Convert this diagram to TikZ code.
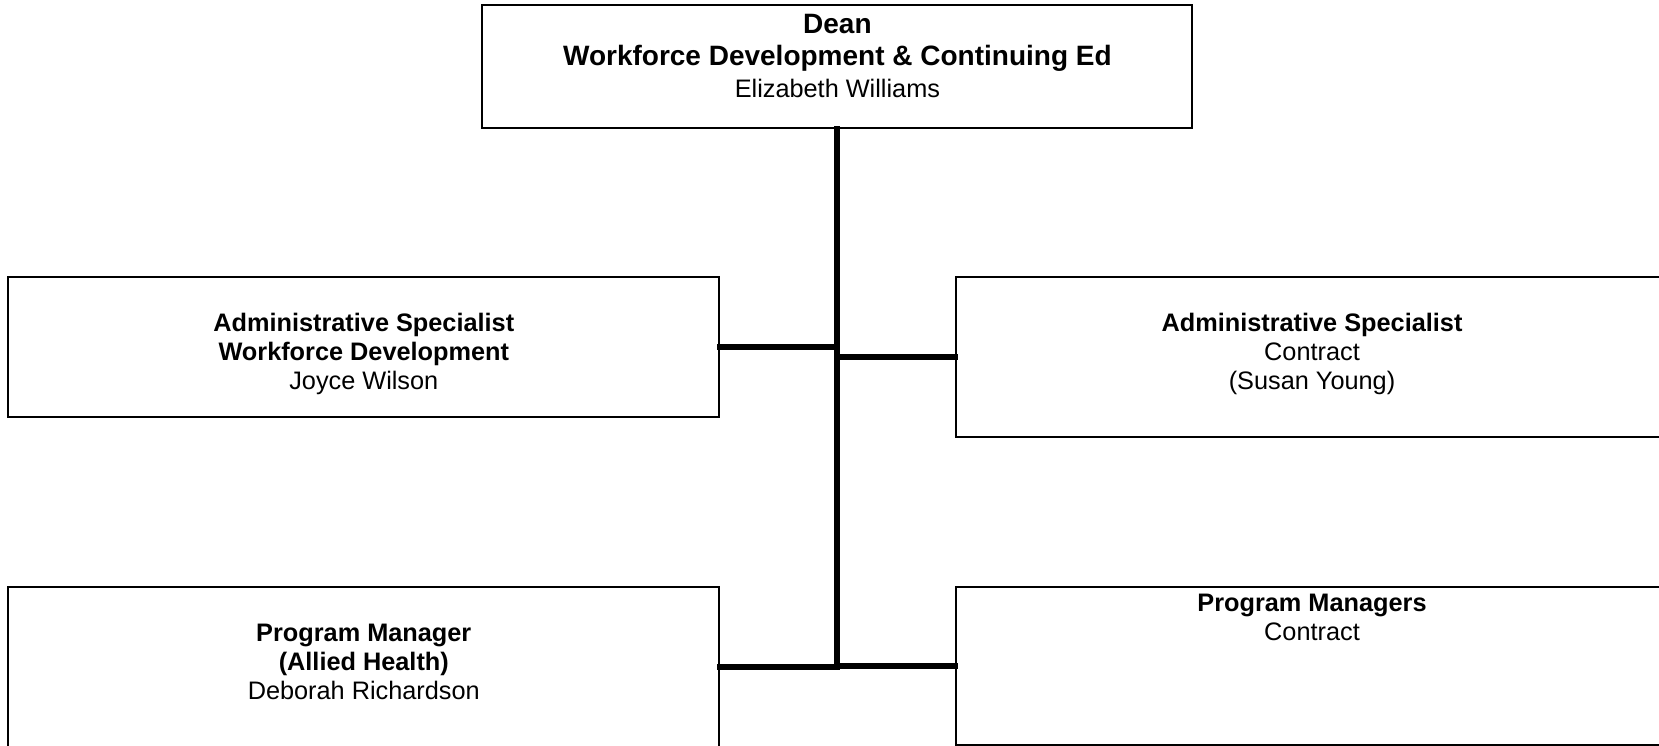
\documentclass[tikz,border=0pt]{standalone}
\usepackage{fontspec}
\setmainfont{Liberation Sans}
\usetikzlibrary{calc, positioning}

\begin{document}
\begin{tikzpicture}[x=1pt, y=-1pt]
	\useasboundingbox (0,0) rectangle (1659,745);
	\clip (0,0) rectangle (1659,745);

	% styles for the boxes, their texts and the connecting lines
	\tikzstyle{org box} = [draw=black, line width=2pt, fill=white, inner sep=0pt, minimum width=#1]
	\tikzstyle{org text} = [align=center, inner sep=0pt, anchor=base, font=\fontsize{25.3}{29}\selectfont]
	\tikzstyle{head text} = [org text, font=\fontsize{28}{32}\selectfont]
	\tikzstyle{conn} = [draw=black, line width=6pt, line cap=rect]

	% boxes
	\node[org box=710pt, minimum height=123pt] (dean) at (837.4,66.7) {};
	\node[org box=711pt, minimum height=139.4pt] (asw) at (363.8,347) {};
	\node[org box=712.5pt, minimum height=159.4pt] (asc) at (1312,357) {};
	\node[org box=711pt, minimum height=160.8pt] (pmah) at (363.8,667.1) {};
	\node[org box=712.5pt, minimum height=157.8pt] (pmc) at (1312,665.6) {};

	% texts (anchored at the baseline of their last line)
	\node[head text] (deantxt) at (837.4,97) {\textbf{Dean}\\\textbf{Workforce Development \& Continuing Ed}\\\fontsize{25.3}{29}\selectfont Elizabeth Williams};
	\node[org text] (aswtxt) at (363.8,389.5) {\textbf{Administrative Specialist}\\\textbf{Workforce Development}\\Joyce Wilson};
	\node[org text] (asctxt) at (1312,389.5) {\textbf{Administrative Specialist}\\Contract\\(Susan Young)};
	\node[org text] (pmahtxt) at (363.8,699) {\textbf{Program Manager}\\\textbf{(Allied Health)}\\Deborah Richardson};
	\node[org text] (pmctxt) at (1312,640) {\textbf{Program Managers}\\Contract};

	% connectors
	\draw[conn] (dean.south) -- (dean.south |- pmah.east);
	\draw[conn] (asw.east) -- (asw.east -| dean.south);
	\draw[conn] (asc.west) -- (asc.west -| dean.south);
	\draw[conn] (pmah.east) -- (pmah.east -| dean.south);
	\draw[conn] (pmc.west) -- (pmc.west -| dean.south);
\end{tikzpicture}
\end{document}
